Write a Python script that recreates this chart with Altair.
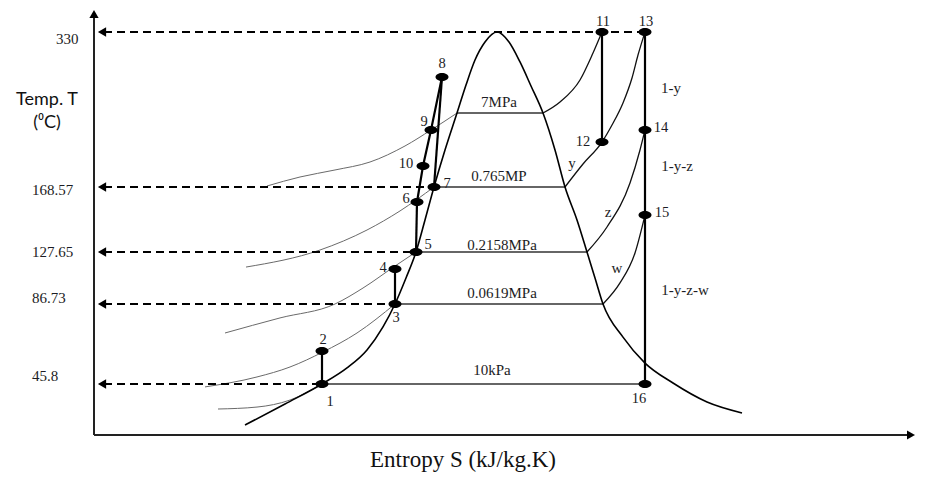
import altair as alt
import pandas as pd

# ---------------- data (schematic entropy units S, temperature T in °C) ----------------
tick_T = [330, 168.57, 127.65, 86.73, 45.8]
tick_text = ["330", "168.57", "127.65", "86.73", "45.8"]
tick_label_S = [-0.38, -0.62, -0.62, -0.62, -0.62]
tick_label_T = [322.7, 166.5, 127.65, 91.4, 49.9]
dash_end_S = [5.51, 3.40, 3.22, 3.01, 2.28]

state_id = [str(i) for i in range(1, 17)]
state_S = [2.28, 2.28, 3.01, 3.01, 3.22, 3.23, 3.40, 3.48, 3.37, 3.29, 5.08, 5.08, 5.51, 5.51, 5.51, 5.51]
state_T = [45.8, 62.7, 86.73, 114.3, 127.65, 159.1, 168.57, 283.1, 227.9, 190.4, 330, 215.4, 330, 227.9, 150.9, 45.8]
state_label_S = [2.36, 2.29, 3.02, 2.89, 3.34, 3.12, 3.53, 3.48, 3.30, 3.12, 5.09, 4.89, 5.52, 5.67, 5.68, 5.45]
state_label_T = [36.6, 68.3, 79.6, 115.1, 132.1, 161.0, 171.7, 296.7, 236.3, 192.5, 340.5, 215.4, 340.5, 230.0, 152.2, 38.1]

process_paths = [[1, 2], [3, 4], [5, 6], [6, 10, 9, 8], [8, 7], [11, 12], [13, 16]]

note_text = ["7MPa", "0.765MP", "0.2158MPa", "0.0619MPa", "10kPa", "y", "z", "w", "1-y", "1-y-z", "1-y-z-w"]
note_S = [4.05, 4.05, 4.08, 4.08, 3.98, 4.78, 5.14, 5.23, 5.77, 5.83, 5.91]
note_T = [257.1, 180.0, 132.1, 95.4, 53.0, 193.6, 152.8, 115.1, 271.7, 190.4, 97.8]

dome_S = [1.51, 1.91, 2.28, 2.53, 2.73, 2.89, 3.01, 3.12, 3.22, 3.31, 3.40, 3.51, 3.63, 3.72, 3.81, 3.91, 4.03,
          4.15, 4.26, 4.37, 4.49, 4.61, 4.71, 4.83, 4.93, 5.01, 5.09, 5.29, 5.51, 5.79, 6.13, 6.48]
dome_T = [24.8, 35.6, 45.8, 54.0, 63.2, 75.0, 86.73, 107.2, 127.65, 147.8, 168.57, 207.1, 245.6, 274.8, 300.8, 319.6, 330,
          319.6, 298.8, 273.8, 245.6, 207.1, 168.57, 147.8, 127.65, 107.2, 86.73, 69.8, 56.5, 46.3, 36.6, 31.0]

# compressed-liquid isobars
liq10_S = [1.24, 1.63, 1.96, 2.28]
liq10_T = [33.0, 34.0, 37.6, 45.8]
liq0619_S = [1.11, 1.63, 1.96, 2.29, 2.63, 3.01]
liq0619_T = [44.3, 49.4, 54.5, 62.2, 71.9, 86.73]
liq2158_S = [1.31, 1.86, 2.41, 2.69, 3.01, 3.22]
liq2158_T = [71.9, 79.6, 86.73, 99.3, 116.6, 127.65]
liq765_S = [1.52, 2.26, 2.73, 3.06, 3.40]
liq765_T = [115.8, 128.9, 141.5, 153.5, 168.57]
liq7_S = [1.73, 2.06, 2.41, 2.76, 3.11, 3.37, 3.63]
liq7_T = [169.6, 179.0, 186.3, 194.6, 211.3, 227.9, 245.6]

# two-phase (horizontal) isobars
flat_S = [3.63, 3.40, 3.22, 3.01, 2.28]
flat_S2 = [4.49, 4.71, 4.93, 5.09, 5.51]
flat_T = [245.6, 168.57, 127.65, 86.73, 45.8]

# superheated isobars
sup7_S = [4.49, 4.66, 4.86, 4.99, 5.08]
sup7_T = [245.6, 257.1, 280.0, 308.1, 330]
sup765_S = [4.71, 4.89, 5.08, 5.18, 5.29, 5.38, 5.44, 5.51]
sup765_T = [168.57, 192.5, 215.4, 233.1, 256.1, 282.1, 306.0, 330]
sup2158_S = [4.93, 5.13, 5.36, 5.46, 5.51]
sup2158_T = [127.65, 143.4, 172.7, 207.1, 227.9]
sup0619_S = [5.09, 5.26, 5.41, 5.51]
sup0619_T = [86.73, 103.3, 126.9, 150.9]

# axes extents
axis_T0 = 19.7
axis_T_top = 348.8
axis_S_end = 8.17

# ---------------- build ----------------
W, H = 909, 465
xs = alt.Scale(domain=[-0.86, 8.23], range=[0, W], nice=False, zero=False)
ys = alt.Scale(domain=[19.7, 45.8, 86.73, 127.65, 168.57, 330, 353],
               range=[427, 376, 296, 244, 179, 24, 2], nice=False, zero=False)

X = lambda f="S": alt.X(f, type="quantitative", scale=xs, axis=None)
Y = lambda f="T": alt.Y(f, type="quantitative", scale=ys, axis=None)


def curves(pairs):
    rows = []
    for name, S, T in pairs:
        for i, (s, t) in enumerate(zip(S, T)):
            rows.append({"curve": name, "i": i, "S": s, "T": t})
    return pd.DataFrame(rows)


def line_layer(df, color, width, interp="monotone"):
    return alt.Chart(df).mark_line(color=color, strokeWidth=width, interpolate=interp).encode(
        x=X(), y=Y(), detail="curve:N", order="i:Q")


serif = "Liberation Serif"
txt_color = "#1c1c24"

dome = line_layer(curves([("dome", dome_S, dome_T)]), "#000000", 1.6)
liquid = line_layer(curves([("l10", liq10_S, liq10_T), ("l0619", liq0619_S, liq0619_T),
                            ("l2158", liq2158_S, liq2158_T), ("l765", liq765_S, liq765_T),
                            ("l7", liq7_S, liq7_T)]), "#6a6a6a", 1.0)
superheat = line_layer(curves([("s7", sup7_S, sup7_T), ("s765", sup765_S, sup765_T),
                               ("s2158", sup2158_S, sup2158_T), ("s0619", sup0619_S, sup0619_T)]), "#111111", 1.3)

flat_df = pd.DataFrame({"S": flat_S, "S2": flat_S2, "T": flat_T})
flat = alt.Chart(flat_df).mark_rule(color="#333333", strokeWidth=1.4).encode(x=X(), x2="S2", y=Y())

proc_rows = []
for k, path in enumerate(process_paths):
    for i, sid in enumerate(path):
        proc_rows.append({"curve": f"p{k}", "i": i, "S": state_S[sid - 1], "T": state_T[sid - 1]})
process = line_layer(pd.DataFrame(proc_rows), "#000000", 2.2, interp="linear")

dash_df = pd.DataFrame({"S": [0.10] * len(tick_T), "S2": dash_end_S, "T": tick_T})
dashes = alt.Chart(dash_df).mark_rule(color="#000000", strokeWidth=1.8, strokeDash=[8, 5]).encode(
    x=X(), x2="S2", y=Y())
heads = alt.Chart(pd.DataFrame({"S": [0.08] * len(tick_T), "T": tick_T})).mark_point(
    shape="triangle-left", filled=True, size=90, color="#000000", opacity=1).encode(x=X(), y=Y())

axes_df = pd.DataFrame({"S": [0.0, 0.0], "S2": [0.0, axis_S_end], "T": [axis_T0, axis_T0], "T2": [axis_T_top, axis_T0]})
axes = alt.Chart(axes_df).mark_rule(color="#222222", strokeWidth=2).encode(x=X(), x2="S2", y=Y(), y2="T2")
axis_heads = alt.Chart(pd.DataFrame({"S": [0.0, axis_S_end], "T": [axis_T_top, axis_T0],
                                     "shape": ["triangle-up", "triangle-right"]})).mark_point(
    filled=True, size=85, color="#000000", opacity=1).encode(
    x=X(), y=Y(), shape=alt.Shape("shape:N", scale=None, legend=None))

ellipse = "M-1,0A1,0.62,0,1,1,1,0A1,0.62,0,1,1,-1,0Z"
state_df = pd.DataFrame({"id": state_id, "S": state_S, "T": state_T,
                         "LS": state_label_S, "LT": state_label_T})
dots = alt.Chart(state_df).mark_point(shape=ellipse, filled=True, size=169, color="#000000", opacity=1).encode(
    x=X(), y=Y())
state_labels = alt.Chart(state_df).mark_text(font=serif, fontSize=14.5, color=txt_color).encode(
    x=X("LS"), y=Y("LT"), text="id:N")

note_df = pd.DataFrame({"t": note_text, "S": note_S, "T": note_T})
notes = alt.Chart(note_df).mark_text(font=serif, fontSize=15, color=txt_color).encode(
    x=X(), y=Y(), text="t:N")

tick_df = pd.DataFrame({"t": tick_text, "S": tick_label_S, "T": tick_label_T})
ticks = alt.Chart(tick_df).mark_text(font=serif, fontSize=15, color=txt_color, align="left").encode(
    x=X(), y=Y(), text="t:N")

one = pd.DataFrame({"a": [0]})
ytitle1 = alt.Chart(one).mark_text(font="Lato", fontSize=18, color="#111111").encode(
    x=alt.value(39), y=alt.value(92), text=alt.value("Temp. T"))
ytitle2 = alt.Chart(one).mark_text(font="Lato", fontSize=18, color="#111111").encode(
    x=alt.value(39), y=alt.value(115), text=alt.value("(⁰C)"))
xtitle = alt.Chart(one).mark_text(font=serif, fontSize=23, color="#111111", baseline="alphabetic").encode(
    x=alt.value(455), y=alt.value(459), text=alt.value("Entropy S (kJ/kg.K)"))

chart = alt.layer(
    liquid, flat, superheat, dome, process, dashes, heads, axes, axis_heads, dots,
    state_labels, notes, ticks, ytitle1, ytitle2, xtitle
).properties(width=W, height=H, autosize=alt.AutoSizeParams(type="none"), padding=0
).configure_view(stroke=None)

chart.save("out.html", embed_options={"renderer": "svg", "actions": False})
